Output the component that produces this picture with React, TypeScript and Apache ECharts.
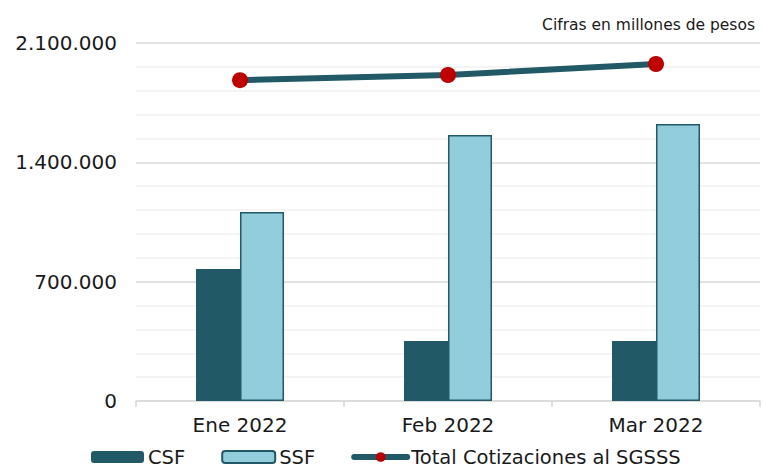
import React, { useEffect, useRef } from "react";
import * as echarts from "echarts";

const categories = ["Ene 2022", "Feb 2022", "Mar 2022"];
const csfValues = [774000, 352000, 352000];
const ssfValues = [1108000, 1560000, 1625000];
const totalValues = [1882000, 1912000, 1977000];
const yMax = 2100000;
const yStep = 140000;
const yLabelStep = 700000;

const FONT = "DejaVu Sans, Verdana, sans-serif";
const DARK = "#215967";
const LIGHT = "#92CDDC";
const RED = "#C00000";

function fmt(v: number): string {
  return String(v).replace(/\B(?=(\d{3})+(?!\d))/g, ".");
}

export default function App() {
  const ref = useRef<HTMLDivElement>(null);
  useEffect(() => {
    if (!ref.current) return;
    const chart = echarts.init(ref.current, undefined, { renderer: "svg" });
    chart.setOption({
      animation: false,
      textStyle: { fontFamily: FONT },
      title: {
        text: "Cifras en millones de pesos",
        right: 3,
        top: 12,
        textStyle: { fontFamily: FONT, fontSize: 15.5, fontWeight: "normal", color: "#1a1a1a" },
      },
      grid: { left: 136, right: 3, top: 43, bottom: 68, containLabel: false },
      legend: {
        left: 91,
        top: 447,
        padding: 0,
        itemWidth: 53,
        itemHeight: 12,
        itemGap: 36,
        textStyle: { fontFamily: FONT, fontSize: 19.5, lineHeight: 20, color: "#1a1a1a", padding: [0, 0, 0, -1] },
        data: [
          { name: "CSF", itemStyle: { borderRadius: 0 } },
          { name: "SSF", itemStyle: { borderRadius: 0 } },
          { name: "Total Cotizaciones al SGSSS", lineStyle: { width: 6, color: DARK, cap: "round" } },
        ],
      },
      xAxis: {
        type: "category",
        data: categories,
        axisLine: { lineStyle: { color: "#d9d9d9", width: 1.5 } },
        axisTick: { show: true, length: 6, lineStyle: { color: "#d9d9d9", width: 1.5 } },
        axisLabel: { fontFamily: FONT, fontSize: 20, color: "#1a1a1a", margin: 14 },
      },
      yAxis: {
        type: "value",
        min: 0,
        max: yMax,
        interval: yStep,
        axisLine: { show: false },
        axisTick: { show: false },
        axisLabel: {
          fontFamily: FONT,
          fontSize: 20,
          color: "#1a1a1a",
          margin: 19,
          formatter: (v: number) => (v % yLabelStep === 0 ? fmt(v) : ""),
        },
        splitLine: {
          lineStyle: {
            color: ["#d9d9d9", "#f0f0f0", "#f0f0f0", "#f0f0f0", "#f0f0f0"],
            width: 1.5,
          },
        },
      },
      series: [
        {
          name: "CSF",
          type: "bar",
          data: csfValues,
          barWidth: 44,
          barGap: "0%",
          itemStyle: { color: DARK },
        },
        {
          name: "SSF",
          type: "bar",
          data: ssfValues,
          barWidth: 44,
          barGap: "0%",
          itemStyle: { color: LIGHT, borderColor: DARK, borderWidth: 1.5 },
        },
        {
          name: "Total Cotizaciones al SGSSS",
          type: "line",
          data: totalValues,
          symbol: "circle",
          symbolSize: 16,
          lineStyle: { color: DARK, width: 6 },
          itemStyle: { color: RED },
        },
      ],
    });
    return () => chart.dispose();
  }, []);
  return (
    <div
      ref={ref}
      style={{ position: "absolute", left: 0, top: 0, width: 763, height: 469 }}
    />
  );
}
